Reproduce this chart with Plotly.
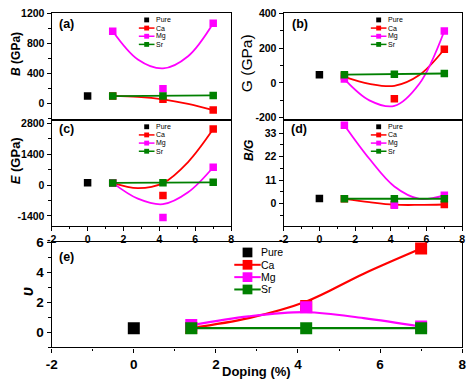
import plotly.graph_objects as go

W, H = 474, 384

# ---------------- data ----------------
series_names = ["Pure", "Ca", "Mg", "Sr"]
series_colors = ["#000000", "#FF0000", "#FF00FF", "#008000"]

pure_x = [0.0]
dop_x = [1.4, 4.2, 7.0]
fit_x = [1.4, 2.8, 4.2, 5.6, 7.0]

x_ticks = [-2, 0, 2, 4, 6, 8]
x_minor = [-1, 1, 3, 5, 7]

# (a) bulk modulus B (GPa)
B_pure = [98]
B_ca = [100, 55, -87]
B_mg = [960, 197, 1066]
B_sr = [98, 98, 107]
B_ca_fit = [100, 88, 55, -5, -87]
B_mg_fit = [960, 585, 466, 628, 1066]
B_ticks = [0, 400, 800, 1200]
B_minor = [-200, 200, 600, 1000]

# (b) shear modulus G (GPa)
G_pure = [47]
G_ca = [40, -91, 193]
G_mg = [22, None, 298]
G_sr = [47, 49, 54]
G_ca_fit = [35, -5, -17, 45, 193]
G_mg_fit = [22, -100, -132, -5, 298]
G_ticks = [-200, 0, 200, 400]
G_minor = [-100, 100, 300]

# (c) Young's modulus E (GPa)
E_pure = [102]
E_ca = [100, -473, 2548]
E_mg = [100, -1475, 810]
E_sr = [100, 110, 125]
E_ca_fit = [100, -140, 90, 1050, 2548]
E_mg_fit = [100, -620, -870, -330, 810]
E_ticks = [-1400, 0, 1400, 2800]
E_minor = [-700, 700, 2100]

# (d) B/G
BG_pure = [2.3]
BG_ca = [2.2, -0.6, -0.5]
BG_mg = [36.8, -0.9, 3.8]
BG_sr = [2.2, 2.2, 2.2]
BG_ca_fit = [2.2, 0.6, -0.6, -0.7, -0.5]
BG_mg_fit = [36.8, 21, 8, 2.2, 3.8]
BG_ticks = [0, 11, 22, 33]
BG_minor = [-5.5, 5.5, 16.5, 27.5]

# (e) Poisson's ratio
nu_pure = [0.27]
nu_ca = [0.3, 1.75, 5.57]
nu_mg = [0.49, 1.67, 0.39]
nu_sr = [0.28, 0.28, 0.28]
nu_ca_fit = [0.3, 0.95, 2.05, 3.9, 5.57]
nu_mg_fit = [0.49, 1.07, 1.34, 0.95, 0.39]
nu_ticks = [0, 2, 4, 6]
nu_minor = [-1, 1, 3, 5]

# ---------------- layout geometry (pixels) ----------------
FONT = "Arial, Liberation Sans, sans-serif"
L1, R1 = 46.7, 230.0
L2, R2 = 283.7, 466.0
T_top, B_top = 6.0, 116.0
T_mid, B_mid = 116.0, 225.0
T_e, B_e = 242.0, 350.5
XR = [-2.0, 8.0]


def px_x(v):
    return v / W


def px_y(v):
    return 1 - v / H


fig = go.Figure()

panels = [
    dict(ax="", pure=B_pure, ca=B_ca, mg=B_mg, sr=B_sr, caf=B_ca_fit, mgf=B_mg_fit, ms=7.5, lw=1.8),
    dict(ax="2", pure=G_pure, ca=G_ca, mg=G_mg, sr=G_sr, caf=G_ca_fit, mgf=G_mg_fit, ms=7.5, lw=1.8),
    dict(ax="3", pure=E_pure, ca=E_ca, mg=E_mg, sr=E_sr, caf=E_ca_fit, mgf=E_mg_fit, ms=7.5, lw=1.8),
    dict(ax="4", pure=BG_pure, ca=BG_ca, mg=BG_mg, sr=BG_sr, caf=BG_ca_fit, mgf=BG_mg_fit, ms=7.5, lw=1.8),
    dict(ax="5", pure=nu_pure, ca=nu_ca, mg=nu_mg, sr=nu_sr, caf=nu_ca_fit, mgf=nu_mg_fit, ms=12, lw=2.2),
]

for p in panels:
    xa, ya = "x" + p["ax"], "y" + p["ax"]
    ms, lw = p["ms"], p["lw"]
    # Pure
    fig.add_trace(go.Scatter(x=pure_x, y=p["pure"], mode="markers", xaxis=xa, yaxis=ya,
                             marker=dict(symbol="square", size=ms, color=series_colors[0]),
                             showlegend=False, name=series_names[0]))
    # Ca
    fig.add_trace(go.Scatter(x=fit_x, y=p["caf"], mode="lines", xaxis=xa, yaxis=ya,
                             line=dict(color=series_colors[1], width=lw, shape="spline"),
                             showlegend=False, hoverinfo="skip"))
    fig.add_trace(go.Scatter(x=dop_x, y=p["ca"], mode="markers", xaxis=xa, yaxis=ya,
                             marker=dict(symbol="square", size=ms, color=series_colors[1]),
                             showlegend=False, name=series_names[1]))
    # Mg
    fig.add_trace(go.Scatter(x=fit_x, y=p["mgf"], mode="lines", xaxis=xa, yaxis=ya,
                             line=dict(color=series_colors[2], width=lw, shape="spline"),
                             showlegend=False, hoverinfo="skip"))
    fig.add_trace(go.Scatter(x=dop_x, y=p["mg"], mode="markers", xaxis=xa, yaxis=ya,
                             marker=dict(symbol="square", size=ms, color=series_colors[2]),
                             showlegend=False, name=series_names[2]))
    # Sr
    fig.add_trace(go.Scatter(x=dop_x, y=p["sr"], mode="lines+markers", xaxis=xa, yaxis=ya,
                             line=dict(color=series_colors[3], width=lw),
                             marker=dict(symbol="square", size=ms, color=series_colors[3]),
                             showlegend=False, name=series_names[3]))


def axis(domain, rng, tv, mv, labels, fs, ticks=True):
    d = dict(domain=domain, range=rng, tickmode="array", tickvals=tv,
             ticktext=[str(v) for v in tv],
             showgrid=False, zeroline=False,
             showline=True, linecolor="black", linewidth=1.4, mirror=True,
             ticks="outside" if ticks else "", ticklen=4, tickwidth=1.3, tickcolor="black",
             showticklabels=labels, ticklabeloverflow="allow",
             tickfont=dict(family=FONT, size=fs, color="black", weight="bold"))
    if ticks:
        d["minor"] = dict(ticks="outside", ticklen=2.2, tickwidth=1, tickcolor="black",
                          tickmode="array", tickvals=mv, showgrid=False)
    return d


dxL = [px_x(L1), px_x(R1)]
dxR = [px_x(L2), px_x(R2)]
dxE = [px_x(L1), px_x(R2)]
dyT = [px_y(B_top), px_y(T_top)]
dyM = [px_y(B_mid), px_y(T_mid)]
dyE = [px_y(B_e), px_y(T_e)]

fig.update_layout(
    xaxis=axis(dxL, XR, x_ticks, x_minor, False, 10.5, ticks=False),
    yaxis=axis(dyT, [-215, 1204], B_ticks, B_minor, True, 10.5),
    xaxis2=axis(dxR, XR, x_ticks, x_minor, False, 10.5, ticks=False),
    yaxis2=axis(dyT, [-211, 402], G_ticks, G_minor, True, 10.5),
    xaxis3=axis(dxL, XR, x_ticks, x_minor, True, 10.5),
    yaxis3=axis(dyM, [-1843, 2977], E_ticks, E_minor, True, 10.5),
    xaxis4=axis(dxR, XR, x_ticks, x_minor, True, 10.5),
    yaxis4=axis(dyM, [-10.4, 39.4], BG_ticks, BG_minor, True, 10.5),
    xaxis5=axis(dxE, XR, x_ticks, x_minor, True, 13.5),
    yaxis5=axis(dyE, [-1.0, 6.0], nu_ticks, nu_minor, True, 13.5),
)
for i in ["", "2", "3", "4", "5"]:
    fig.layout["xaxis" + i].anchor = "y" + i
    fig.layout["yaxis" + i].anchor = "x" + i

annotations = []
shapes = []


def text(xp, yp, s, size, xanchor="center", angle=0, weight="normal"):
    annotations.append(dict(x=px_x(xp), y=px_y(yp), xref="paper", yref="paper", text=s,
                            showarrow=False, xanchor=xanchor, yanchor="middle", textangle=angle,
                            font=dict(family=FONT, size=size, color="black", weight=weight),
                            borderpad=0))


# panel labels
for lbl, xp, yp in [("(a)", L1 + 6, 17), ("(b)", L2 + 7, 17), ("(c)", L1 + 6, 126),
                    ("(d)", L2 + 6, 126), ("(e)", L1 + 6, 257)]:
    text(xp, yp, lbl, 12.5, xanchor="left", weight="bold")

# y axis titles
text(10, 48.5, "<i>B</i> (GPa)", 12, angle=-90, weight="bold")
text(246, 58, "G (GPa)", 15.5, angle=-90)
text(10, 158, "<i>E</i> (GPa)", 13, angle=-90, weight="bold")
text(249, 147.5, "<i>B/G</i>", 12, angle=-90, weight="bold")
text(22, 293, "<i>υ</i>", 16, angle=-90, weight="bold")
# x axis title
text((L1 + R2) / 2, 375.5, "Doping (%)", 13, weight="bold")


def legend(cx, y0, dy, half, msz, lw, fs, tx):
    for i, (nm, col) in enumerate(zip(series_names, series_colors)):
        yy = y0 + i * dy
        if i > 0:
            shapes.append(dict(type="line", xref="paper", yref="paper",
                               x0=px_x(cx - half), x1=px_x(cx + half), y0=px_y(yy), y1=px_y(yy),
                               line=dict(color=col, width=lw)))
        shapes.append(dict(type="rect", xref="paper", yref="paper",
                           x0=px_x(cx - msz / 2), x1=px_x(cx + msz / 2),
                           y0=px_y(yy + msz / 2), y1=px_y(yy - msz / 2),
                           fillcolor=col, line=dict(width=0)))
        text(cx + tx, yy, nm, fs, xanchor="left")


for lx, ty in [(L1, T_top), (L2, T_top), (L1, T_mid), (L2, T_mid)]:
    legend(lx + 97, ty + 7.3, 8.4, 8, 5, 1.5, 7, 9)
legend(L1 + 200, T_e + 10.7, 12.7, 13.5, 10, 2, 10.5, 13)

fig.update_layout(
    width=W, height=H, margin=dict(l=0, r=0, t=0, b=0),
    paper_bgcolor="white", plot_bgcolor="white",
    showlegend=False, annotations=annotations, shapes=shapes,
)

fig.write_html("out.html", config={"displayModeBar": False},
               post_script="document.body.style.margin='0px';document.body.style.overflow='hidden';")
